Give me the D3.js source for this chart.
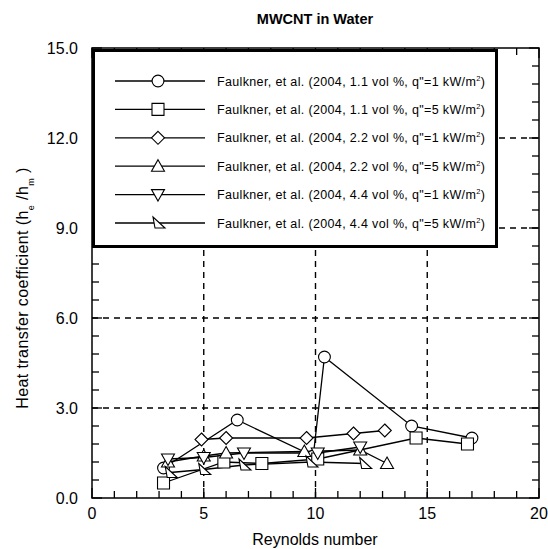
<!DOCTYPE html>
<html lang="en">
<head>
<meta charset="utf-8">
<script src="https://cdn.jsdelivr.net/npm/d3@7"></script>
<style>
	body {margin:0; background:#fff;}
	text {font-family: "Liberation Sans", Arial, sans-serif; fill:#000;}
</style>
</head>
<body>
<script>
// values (Reynolds number, h_e/h_m)
var labels = [
	["1.1", "1"], ["1.1", "5"], ["2.2", "1"], ["2.2", "5"], ["4.4", "1"], ["4.4", "5"]
];
var shapes = ["circle", "square", "diamond", "up", "down", "lean"];

var s1 = [[3.2, 1.0], [6.5, 2.6], [9.9, 1.4], [10.4, 4.7], [14.3, 2.4], [17.0, 2.0]];
var s2 = [[3.2, 0.5], [5.9, 1.2], [7.6, 1.15], [10.1, 1.3], [14.5, 2.0], [16.8, 1.8]];
var s3 = [[4.9, 1.95], [6.0, 2.0], [9.6, 2.0], [11.7, 2.15], [13.1, 2.25]];
var s4 = [[3.4, 1.2], [5.0, 1.4], [6.0, 1.5], [9.5, 1.55], [12.0, 1.6], [13.2, 1.15]];
var s5 = [[3.4, 1.3], [5.0, 1.35], [6.8, 1.5], [10.1, 1.5], [12.0, 1.7]];
var s6 = [[3.5, 0.85], [5.0, 0.95], [6.8, 1.1], [9.8, 1.2], [12.2, 1.15]];
var series = [s1, s2, s3, s4, s5, s6];

var xTicks = [0, 5, 10, 15, 20];
var yTicks = [0, 3, 6, 9, 12, 15];

var W = 548, H = 549;
var x = d3.scaleLinear().domain([0, 20]).range([92, 539]);
var y = d3.scaleLinear().domain([0, 15]).range([498, 48]);

var svg = d3.select("body").append("svg").attr("width", W).attr("height", H);

// marker paths
function markerPath(s) {
	if (s == "circle") return d3.symbol().type(d3.symbolCircle).size(110)();
	if (s == "square") return "M-6,-6H6V6H-6Z";
	if (s == "diamond") return "M0,-6.5L6.5,0L0,6.5L-6.5,0Z";
	if (s == "up") return "M0,-6.5L6.5,5L-6.5,5Z";
	if (s == "down") return "M0,6.5L6.5,-5L-6.5,-5Z";
	return "M-5,-6L7,5L-3,5Z";
}

// grid
var grid = svg.append("g").attr("stroke", "#000").attr("stroke-width", 1.4).attr("stroke-dasharray", "6,5");
grid.selectAll("line.gx").data(xTicks.slice(1, -1)).enter().append("line")
	.attr("x1", function(d) {return x(d);}).attr("x2", function(d) {return x(d);})
	.attr("y1", y(0)).attr("y2", y(15));
grid.selectAll("line.gy").data(yTicks.slice(1, -1)).enter().append("line")
	.attr("y1", function(d) {return y(d);}).attr("y2", function(d) {return y(d);})
	.attr("x1", x(0)).attr("x2", x(20));

// frame
svg.append("rect").attr("x", x(0)).attr("y", y(15)).attr("width", x(20) - x(0)).attr("height", y(0) - y(15))
	.attr("fill", "none").attr("stroke", "#000").attr("stroke-width", 1.5);

// inward ticks on all four sides
var xMinor = d3.range(0, 20.01, 1), yMinor = d3.range(0, 15.01, 0.6);
var tk = svg.append("g").attr("stroke", "#000").attr("stroke-width", 1.3);
xMinor.forEach(function(v) {
	var len = (v % 5 == 0) ? 10 : 7;
	tk.append("line").attr("x1", x(v)).attr("x2", x(v)).attr("y1", y(0)).attr("y2", y(0) - len);
	tk.append("line").attr("x1", x(v)).attr("x2", x(v)).attr("y1", y(15)).attr("y2", y(15) + len);
});
yMinor.forEach(function(v) {
	var len = (Math.abs(v / 3 - Math.round(v / 3)) < 1e-6) ? 10 : 7;
	tk.append("line").attr("y1", y(v)).attr("y2", y(v)).attr("x1", x(0)).attr("x2", x(0) + len);
	tk.append("line").attr("y1", y(v)).attr("y2", y(v)).attr("x1", x(20)).attr("x2", x(20) - len);
});

// tick labels
svg.selectAll("text.xt").data(xTicks).enter().append("text")
	.attr("x", function(d) {return x(d);}).attr("y", 519)
	.attr("text-anchor", "middle").attr("font-size", 16).text(function(d) {return d;});
svg.selectAll("text.yt").data(yTicks).enter().append("text")
	.attr("x", 78).attr("y", function(d) {return y(d) + 6;})
	.attr("text-anchor", "end").attr("font-size", 16).text(function(d) {return d.toFixed(1);});

// axis titles
svg.append("text").attr("x", 315).attr("y", 545).attr("text-anchor", "middle").attr("font-size", 16).text("Reynolds number");
var yl = svg.append("text").attr("transform", "translate(28,288) rotate(-90)").attr("text-anchor", "middle")
	.attr("font-size", 16).attr("letter-spacing", 0.4);
yl.append("tspan").text("Heat transfer coefficient (h");
yl.append("tspan").attr("font-size", 9).attr("dy", 6).text("e");
yl.append("tspan").attr("dy", -6).text(" /h");
yl.append("tspan").attr("font-size", 9).attr("dy", 6).text("m");
yl.append("tspan").attr("dy", -6).text(" )");

svg.append("text").attr("x", 315).attr("y", 24).attr("text-anchor", "middle")
	.attr("font-size", 14.5).attr("font-weight", "bold").text("MWCNT in Water");

// data lines + markers
var line = d3.line().x(function(d) {return x(d[0]);}).y(function(d) {return y(d[1]);});
series.forEach(function(s, i) {
	svg.append("path").attr("d", line(s)).attr("fill", "none").attr("stroke", "#000").attr("stroke-width", 1.3);
});
series.forEach(function(s, i) {
	svg.selectAll("path.m" + i).data(s).enter().append("path")
		.attr("transform", function(d) {return "translate(" + x(d[0]) + "," + y(d[1]) + ")";})
		.attr("d", markerPath(shapes[i]))
		.attr("fill", "#fff").attr("stroke", "#000").attr("stroke-width", 1.1);
});

// legend
var lg = svg.append("g");
lg.append("rect").attr("x", 93.5).attr("y", 50.5).attr("width", 403).attr("height", 196)
	.attr("fill", "#fff").attr("stroke", "#000").attr("stroke-width", 3);
labels.forEach(function(l, i) {
	var yy = 81 + i * 28.4;
	lg.append("line").attr("x1", 115).attr("x2", 205).attr("y1", yy).attr("y2", yy)
		.attr("stroke", "#000").attr("stroke-width", 1.3);
	lg.append("path").attr("transform", "translate(158," + yy + ")").attr("d", markerPath(shapes[i]))
		.attr("fill", "#fff").attr("stroke", "#000").attr("stroke-width", 1.1);
	var t = lg.append("text").attr("x", 217).attr("y", yy + 4.5).attr("font-size", 12.5).attr("letter-spacing", 0.35);
	t.append("tspan").text("Faulkner, et al. (2004, " + l[0] + " vol %, q\"=" + l[1] + " kW/m");
	t.append("tspan").attr("font-size", 7.5).attr("dy", -5).text("2");
	t.append("tspan").attr("dy", 5).text(")");
});
</script>
</body>
</html>
